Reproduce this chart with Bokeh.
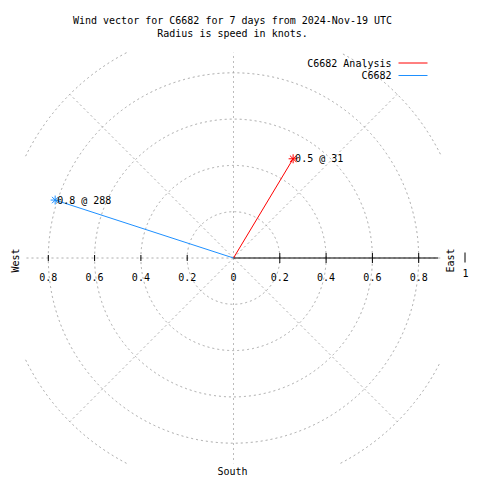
import numpy as np
from bokeh.plotting import figure
from bokeh.models import Range1d
from bokeh.core.properties import value
from bokeh.embed import file_html
from bokeh.resources import INLINE

# ---------------- data ----------------
series_names = ["C6682 Analysis", "C6682"]
speeds = [0.5, 0.81]          # knots (radius)
directions = [31, 288]        # degrees, clockwise from north
series_colors = ["#ff0000", "#1e90ff"]
ring_radii = [0.2, 0.4, 0.6, 0.8, 1.0]
spoke_angles = [0, 45, 90, 135, 180, 225, 270, 315]
tick_values = [-0.8, -0.6, -0.4, -0.2, 0.0, 0.2, 0.4, 0.6, 0.8]
tick_labels = ["0.8", "0.6", "0.4", "0.2", "0", "0.2", "0.4", "0.6", "0.8"]
title_lines = ["Wind vector for C6682 for 7 days from 2024-Nov-19 UTC",
               "Radius is speed in knots."]

# ---------------- layout ----------------
W = H = 480
S = 231.5               # pixels per knot
CX, CY = 233.0, 257.5   # centre inside the figure (pixels from top-left)
FONT = value("DejaVu Sans Mono")
FS = "10px"


def X(px):
    return (px - CX) / S


def Y(py):
    return (CY - py) / S


p = figure(width=W, height=H, output_backend="svg", toolbar_location=None,
           x_range=Range1d(-CX / S, (W - CX) / S),
           y_range=Range1d(-(H - CY) / S, CY / S),
           x_axis_type=None, y_axis_type=None, min_border=0,
           background_fill_color="white", border_fill_color="white")
p.outline_line_color = None
p.grid.visible = False

xmin, xmax, ymin, ymax = X(25), X(440), Y(463), Y(52)


def clip(xs, ys):
    xs = np.array(xs, dtype=float)
    ys = np.array(ys, dtype=float)
    bad = (xs < xmin) | (xs > xmax) | (ys < ymin) | (ys > ymax)
    xs[bad] = np.nan
    ys[bad] = np.nan
    return xs, ys


grid_kw = dict(line_color="#a0a0a0", line_width=1, line_dash="2 3")
th = np.linspace(0, 2 * np.pi, 2001)
for r in ring_radii:
    xs, ys = clip(r * np.cos(th), r * np.sin(th))
    p.line(xs, ys, **grid_kw)

t = np.linspace(0, 1.0, 600)
for a in spoke_angles:
    ar = np.radians(a)
    xs, ys = clip(t * np.cos(ar), t * np.sin(ar))
    p.line(xs, ys, **grid_kw)

# black radial axis (east side) with ticks
p.line([0, xmax - 0.01], [0, 0], line_color="black", line_width=1)
tv = np.array(tick_values)
pos = tv[tv > 0]
neg = tv[tv < 0]
p.segment(x0=pos, x1=pos, y0=-5 / S, y1=5 / S, line_color="black", line_width=1)
p.segment(x0=neg, x1=neg, y0=-3 / S, y1=3 / S, line_color="black", line_width=1)
p.text(x=tick_values, y=[0] * len(tick_values), text=tick_labels,
       y_offset=18.5, text_align="center", text_baseline="middle",
       text_font=FONT, text_font_size=FS, text_color="black")

# wind vectors
for name, s, d, c in zip(series_names, speeds, directions, series_colors):
    dr = np.radians(d)
    vx, vy = s * np.sin(dr), s * np.cos(dr)
    p.line([0, vx], [0, vy], line_color=c, line_width=1)
    p.scatter([vx], [vy], marker="asterisk", size=9, line_color=c, line_width=1)
    p.text(x=[vx], y=[vy], text=[f"{s:.1f} @ {d}"], x_offset=2,
           text_align="left", text_baseline="middle",
           text_font=FONT, text_font_size=FS, text_color="black")

# title
p.text(x=[X(232)] * 2, y=[Y(20), Y(33)], text=title_lines,
       text_align="center", text_baseline="middle",
       text_font=FONT, text_font_size=FS, text_color="black")

# legend
leg_y = [Y(62.5), Y(75)]
p.text(x=[X(391)] * 2, y=leg_y, text=series_names, text_align="right",
       text_baseline="middle", text_font=FONT, text_font_size=FS,
       text_color="black")
p.segment(x0=[X(398)] * 2, x1=[X(427)] * 2, y0=leg_y, y1=leg_y,
          line_color=series_colors, line_width=1)

# compass labels
p.text(x=[X(15), X(450)], y=[Y(260), Y(260)], text=["West", "East"],
       angle=np.pi / 2, text_align="center", text_baseline="middle",
       text_font=FONT, text_font_size=FS, text_color="black")
p.text(x=[X(232)], y=[Y(471)], text=["South"], text_align="center",
       text_baseline="middle", text_font=FONT, text_font_size=FS,
       text_color="black")
p.segment(x0=[X(464.5)], x1=[X(464.5)], y0=[Y(252)], y1=[Y(262)],
          line_color="black", line_width=1)
p.text(x=[X(465)], y=[Y(272)], text=["1"],
       text_align="center", text_baseline="middle", text_font=FONT,
       text_font_size=FS, text_color="black")

open("out.html", "w").write(file_html(p, INLINE))
